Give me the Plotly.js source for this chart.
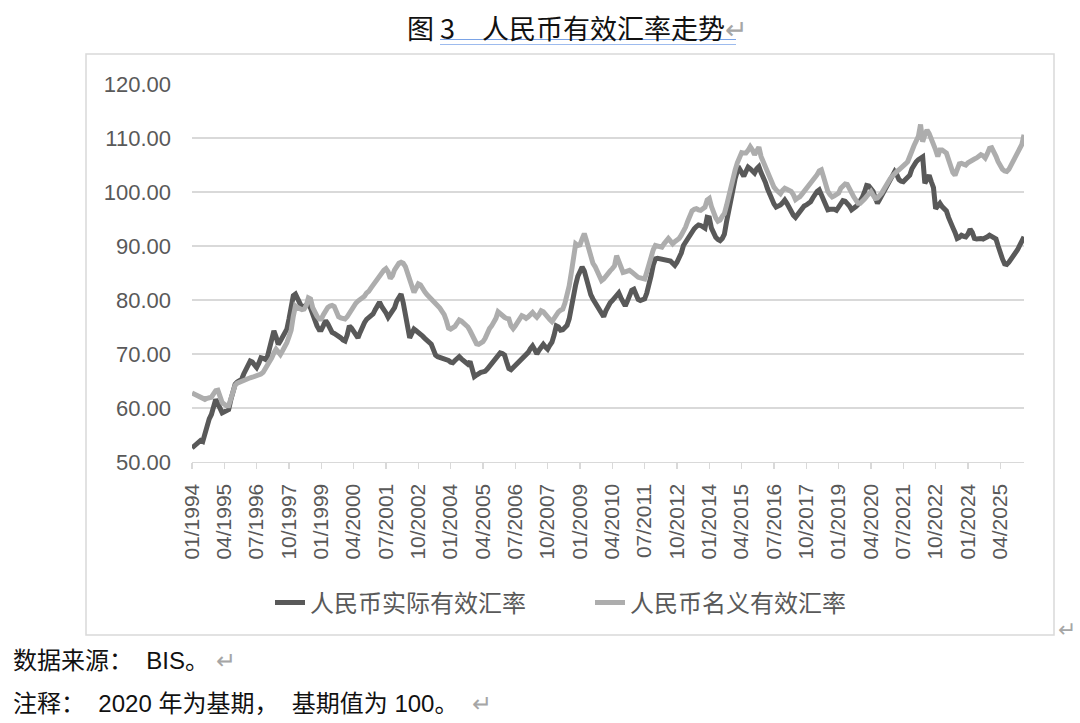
<!DOCTYPE html>
<html>
<head>
<meta charset="utf-8">
<script src="https://cdn.plot.ly/plotly-3.0.1.min.js"></script>
<style>
  body { margin: 0; background: #fff; }
  #chart { width: 1080px; height: 723px; }
</style>
</head>
<body>
<div id="chart"></div>
<script>
// monthly data 01/1994 - 03/2026, BIS, 2020 = 100
var startYear = 1994;
var nMonths = 387;

// 人民币实际有效汇率 (REER)
var reer = [
  52.6, 53.0, 53.4, 53.8, 54.0, 53.8, 55.5, 57.2, 58.0, 58.8, 60.2, 61.6, // 1994
  60.8, 60.0, 59.1, 59.3, 59.6, 59.7, 61.5, 63.3, 64.4, 64.8, 65.1, 65.3, // 1995
  66.3, 67.2, 67.8, 68.7, 68.5, 67.9, 67.5, 68.3, 69.3, 69.2, 69.0, 69.5, // 1996
  71.2, 72.8, 74.3, 73.2, 71.8, 72.4, 73.0, 73.8, 74.6, 76.5, 78.7, 80.8, // 1997
  81.1, 80.2, 79.5, 78.6, 78.8, 79.0, 79.3, 78.5, 77.2, 76.1, 75.2, 74.5, // 1998
  74.5, 75.3, 76.2, 75.6, 74.8, 74.0, 73.8, 73.6, 73.4, 73.0, 72.6, 72.4, // 1999
  73.5, 75.2, 74.8, 74.3, 73.6, 73.0, 74.0, 75.2, 75.8, 76.4, 76.8, 77.1, // 2000
  77.4, 78.2, 79.0, 79.6, 78.8, 78.3, 77.6, 76.8, 77.5, 78.2, 78.6, 79.8, // 2001
  80.6, 81.1, 79.5, 77.4, 75.2, 73.0, 73.8, 74.6, 74.3, 74.0, 73.8, 73.3, // 2002
  72.9, 72.5, 72.1, 71.8, 70.8, 69.8, 69.5, 69.4, 69.3, 69.2, 69.0, 68.8, // 2003
  68.5, 68.4, 68.8, 69.3, 69.5, 69.1, 68.7, 68.4, 68.1, 68.6, 67.0, 65.8, // 2004
  66.1, 66.4, 66.6, 66.7, 66.8, 67.2, 67.7, 68.2, 68.7, 69.3, 69.8, 70.2, // 2005
  70.1, 69.8, 68.5, 67.3, 67.1, 67.5, 67.8, 68.1, 68.5, 68.9, 69.3, 69.6, // 2006
  70.3, 71.0, 71.5, 70.8, 70.0, 70.7, 71.4, 71.8, 71.3, 70.9, 71.6, 72.2, // 2007
  73.5, 75.2, 75.0, 74.4, 74.5, 75.0, 75.3, 76.5, 78.9, 81.0, 82.8, 84.4, // 2008
  85.6, 86.1, 85.4, 84.0, 81.9, 81.0, 80.2, 79.5, 78.8, 78.1, 77.2, 76.9, // 2009
  78.0, 78.9, 79.5, 79.9, 80.5, 81.1, 81.3, 80.4, 79.6, 78.9, 79.8, 81.0, // 2010
  81.8, 82.0, 81.2, 80.1, 79.9, 80.0, 80.2, 81.3, 82.6, 84.5, 86.5, 87.6, // 2011
  87.7, 87.6, 87.6, 87.6, 87.5, 87.4, 87.2, 86.8, 86.4, 87.0, 87.8, 88.7, // 2012
  90.1, 90.8, 91.5, 92.1, 92.7, 93.2, 93.6, 93.9, 93.8, 93.5, 93.3, 95.3, // 2013
  95.2, 93.3, 92.1, 91.6, 91.2, 91.0, 91.4, 92.2, 94.5, 96.8, 99.0, 101.0, // 2014
  102.5, 103.9, 104.3, 103.6, 102.9, 103.8, 104.6, 104.3, 103.9, 103.5, 104.3, 104.7, // 2015
  103.6, 102.9, 101.8, 100.6, 99.5, 98.6, 97.8, 97.2, 97.3, 97.6, 98.0, 98.5, // 2016
  97.9, 97.0, 96.4, 95.7, 95.3, 95.8, 96.6, 97.1, 97.4, 97.6, 97.9, 98.2, // 2017
  98.9, 99.6, 100.1, 100.4, 99.4, 98.5, 97.5, 96.7, 96.8, 96.9, 96.8, 96.6, // 2018
  97.1, 97.9, 98.4, 98.3, 97.9, 97.4, 96.7, 96.9, 97.3, 97.7, 98.2, 99.0, // 2019
  100.0, 101.2, 101.1, 100.6, 100.1, 98.9, 97.9, 98.6, 99.4, 100.1, 100.9, 101.7, // 2020
  102.5, 103.3, 103.8, 103.2, 102.3, 102.0, 101.9, 102.3, 102.8, 103.1, 104.3, 105.2, // 2021
  105.6, 106.0, 106.3, 106.5, 101.6, 102.5, 103.1, 101.9, 100.8, 96.9, 97.3, 97.9, // 2022
  97.3, 96.8, 96.5, 95.3, 94.1, 93.4, 92.5, 91.4, 91.6, 92.0, 91.8, 91.7, // 2023
  92.2, 93.1, 92.5, 91.4, 91.3, 91.4, 91.4, 91.3, 91.4, 91.7, 92.0, 91.8, // 2024
  91.5, 91.3, 90.0, 88.6, 87.6, 86.7, 86.6, 87.0, 87.5, 88.0, 88.6, 89.3, // 2025
  90.1, 90.9, 91.7 // 2026
];

// 人民币名义有效汇率 (NEER)
var neer = [
  62.8, 62.6, 62.4, 62.2, 62.0, 61.8, 61.6, 61.8, 61.9, 62.0, 62.6, 63.2, // 1994
  63.3, 62.0, 61.0, 60.7, 60.4, 60.4, 61.8, 63.1, 64.2, 64.6, 64.8, 65.0, // 1995
  65.1, 65.3, 65.4, 65.6, 65.7, 65.8, 66.0, 66.1, 66.3, 66.6, 67.2, 67.8, // 1996
  68.5, 69.3, 70.2, 70.9, 70.4, 69.9, 70.6, 71.3, 72.1, 73.2, 74.4, 77.0, // 1997
  78.9, 78.6, 78.3, 78.2, 78.3, 79.0, 80.4, 80.2, 78.6, 77.6, 77.0, 76.5, // 1998
  76.5, 77.3, 78.2, 78.6, 78.9, 79.0, 78.8, 78.0, 76.9, 76.7, 76.6, 76.5, // 1999
  76.9, 77.6, 78.0, 78.6, 79.4, 79.8, 80.1, 80.4, 80.7, 81.3, 81.6, 82.2, // 2000
  82.8, 83.3, 83.7, 84.4, 85.0, 85.5, 85.8, 85.2, 84.0, 84.5, 85.6, 86.4, // 2001
  86.8, 87.0, 86.8, 86.2, 85.0, 83.8, 82.5, 81.4, 82.2, 83.0, 82.8, 82.0, // 2002
  81.5, 81.0, 80.6, 80.2, 79.8, 79.5, 79.0, 78.5, 77.9, 77.3, 76.2, 74.8, // 2003
  74.6, 74.8, 75.1, 75.7, 76.3, 76.1, 75.7, 75.6, 75.0, 74.3, 73.4, 72.5, // 2004
  71.9, 71.8, 72.0, 72.3, 72.9, 73.9, 74.7, 75.2, 75.8, 76.6, 77.8, 77.4, // 2005
  77.0, 76.8, 76.6, 76.5, 75.2, 74.7, 75.2, 75.8, 76.4, 77.1, 76.9, 76.6, // 2006
  76.9, 77.4, 77.7, 77.2, 76.8, 77.3, 78.0, 77.8, 77.2, 76.8, 76.4, 76.0, // 2007
  76.6, 77.4, 77.8, 78.1, 78.3, 79.4, 80.8, 82.6, 85.1, 87.5, 90.4, 90.1, // 2008
  90.2, 91.3, 92.3, 91.0, 89.5, 87.7, 86.8, 86.2, 85.4, 84.7, 83.6, 83.9, // 2009
  84.5, 85.1, 85.4, 85.8, 86.3, 88.2, 87.3, 86.0, 85.1, 85.2, 85.4, 85.5, // 2010
  85.2, 84.8, 84.4, 84.2, 84.1, 84.0, 83.9, 85.2, 86.8, 88.2, 89.3, 90.1, // 2011
  90.0, 89.9, 89.8, 90.4, 91.0, 91.4, 90.9, 90.4, 90.8, 91.1, 91.4, 92.0, // 2012
  92.7, 93.5, 94.6, 95.8, 96.5, 96.8, 96.9, 96.7, 96.6, 96.9, 97.2, 98.5, // 2013
  98.8, 97.3, 96.0, 95.2, 94.6, 94.8, 95.5, 96.0, 97.5, 99.4, 101.0, 103.0, // 2014
  104.1, 105.4, 106.6, 107.3, 107.2, 107.2, 107.7, 108.4, 107.8, 106.9, 107.6, 108.3, // 2015
  106.6, 105.6, 104.3, 103.3, 102.4, 101.6, 100.9, 100.4, 100.1, 99.7, 100.3, 100.7, // 2016
  100.5, 100.3, 100.1, 99.5, 98.6, 98.9, 99.1, 99.6, 100.1, 100.6, 101.2, 101.5, // 2017
  101.9, 102.5, 103.2, 103.9, 104.1, 102.8, 101.0, 100.1, 99.5, 99.1, 99.3, 99.6, // 2018
  99.8, 100.7, 101.3, 101.5, 101.4, 100.8, 99.9, 99.1, 98.3, 97.9, 97.9, 98.2, // 2019
  98.7, 99.2, 99.7, 100.1, 99.4, 98.8, 98.9, 99.3, 99.8, 100.5, 101.3, 102.2, // 2020
  102.5, 103.0, 103.5, 103.8, 104.1, 104.4, 104.8, 105.2, 105.6, 106.4, 107.6, 108.6, // 2021
  109.6, 110.3, 112.5, 109.3, 110.6, 111.5, 110.8, 109.9, 109.0, 107.8, 106.6, 107.8, // 2022
  107.8, 107.6, 107.2, 106.0, 104.4, 103.6, 103.1, 104.3, 105.2, 105.3, 105.1, 105.0, // 2023
  105.4, 105.7, 105.9, 106.1, 106.3, 106.5, 106.9, 106.7, 106.3, 107.1, 108.1, 108.2, // 2024
  107.6, 106.6, 105.6, 104.6, 104.2, 103.9, 103.8, 104.2, 105.0, 105.9, 106.9, 107.5, // 2025
  108.2, 108.8, 110.6 // 2026
];

var tickLabels = ['01/1994','04/1995','07/1996','10/1997','01/1999','04/2000','07/2001',
  '10/2002','01/2004','04/2005','07/2006','10/2007','01/2009','04/2010','07/2011',
  '10/2012','01/2014','04/2015','07/2016','10/2017','01/2019','04/2020','07/2021',
  '10/2022','01/2024','04/2025'];

var seriesNames = ['人民币实际有效汇率', '人民币名义有效汇率'];

// month labels MM/YYYY
var months = [];
for (var i = 0; i < nMonths; i++) {
  var y = startYear + Math.floor(i / 12);
  var m = (i % 12) + 1;
  months.push((m < 10 ? '0' : '') + m + '/' + y);
}

// page pixel -> paper coords (plot area 192..1024 x 84..462)
function px(x) { return (x - 192) / 832; }
function py(y) { return (462 - y) / 378; }

var cjk = '"Noto Sans CJK SC", "Noto Sans", sans-serif';
var mixed = '"Liberation Sans", "Noto Sans CJK SC", sans-serif';
var num = '"Liberation Sans", Arial, sans-serif';
var arrow = '<span style="color:#a6a6a6">↵</span>';

var trace1 = {
  x: months,
  y: reer,
  name: seriesNames[0],
  mode: 'lines',
  line: {color: '#595959', width: 5}
};
var trace2 = {
  x: months,
  y: neer,
  name: seriesNames[1],
  mode: 'lines',
  line: {color: '#adadad', width: 5}
};
var data = [trace1, trace2];

var layout = {
  width: 1080,
  height: 723,
  margin: {l: 192, r: 56, t: 84, b: 261},
  paper_bgcolor: '#ffffff',
  plot_bgcolor: '#ffffff',
  showlegend: true,
  legend: {
    orientation: 'h',
    x: px(270), xanchor: 'left',
    y: py(603), yanchor: 'middle',
    font: {family: cjk, size: 24, color: '#595959'},
    entrywidth: 275,
    entrywidthmode: 'pixels',
    bgcolor: 'rgba(0,0,0,0)'
  },
  xaxis: {
    type: 'category',
    range: [0, nMonths - 1],
    tickmode: 'array',
    tickvals: tickLabels,
    ticktext: tickLabels,
    tickangle: -90,
    ticks: 'outside',
    ticklen: 6,
    tickcolor: '#d9d9d9',
    tickwidth: 1.3,
    showline: true,
    linecolor: '#d9d9d9',
    linewidth: 1.3,
    showgrid: false,
    zeroline: false,
    ticklabelstandoff: 6,
    tickfont: {family: num, size: 21, color: '#595959'}
  },
  yaxis: {
    range: [50, 120],
    dtick: 10,
    tickformat: '.2f',
    showgrid: true,
    gridcolor: '#d9d9d9',
    gridwidth: 1.3,
    zeroline: false,
    showline: false,
    ticks: '',
    ticklabelstandoff: 20,
    tickfont: {family: num, size: 22, color: '#595959'}
  },
  shapes: [
    // chart frame
    {type: 'rect', xref: 'paper', yref: 'paper',
     x0: px(86), x1: px(1054), y0: py(635), y1: py(54),
     line: {color: '#d9d9d9', width: 1.5}},
    // word field underline under the caption
    {type: 'line', xref: 'paper', yref: 'paper',
     x0: px(440), x1: px(736), y0: py(39.5), y1: py(39.5),
     line: {color: '#7aa3e6', width: 1.2}},
    {type: 'line', xref: 'paper', yref: 'paper',
     x0: px(440), x1: px(736), y0: py(44.5), y1: py(44.5),
     line: {color: '#9dbbee', width: 1}}
  ],
  annotations: [
    {xref: 'paper', yref: 'paper', x: px(405), y: py(27), xanchor: 'left', yanchor: 'middle',
     showarrow: false, text: '图 3\u3000人民币有效汇率走势' + arrow,
     font: {family: cjk, size: 27, color: '#111111'}},
    {xref: 'paper', yref: 'paper', x: px(1056), y: py(627), xanchor: 'left', yanchor: 'middle',
     showarrow: false, text: arrow, font: {family: cjk, size: 22, color: '#a6a6a6'}},
    {xref: 'paper', yref: 'paper', x: px(11), y: py(660), xanchor: 'left', yanchor: 'middle',
     showarrow: false, text: '数据来源：  BIS。 ' + arrow,
     font: {family: mixed, size: 24, color: '#111111'}},
    {xref: 'paper', yref: 'paper', x: px(11), y: py(703), xanchor: 'left', yanchor: 'middle',
     showarrow: false, text: '注释：  2020 年为基期，  基期值为 100。  ' + arrow,
     font: {family: mixed, size: 24, color: '#111111'}}
  ]
};

Plotly.newPlot('chart', data, layout, {displayModeBar: false, staticPlot: true});
</script>
</body>
</html>
